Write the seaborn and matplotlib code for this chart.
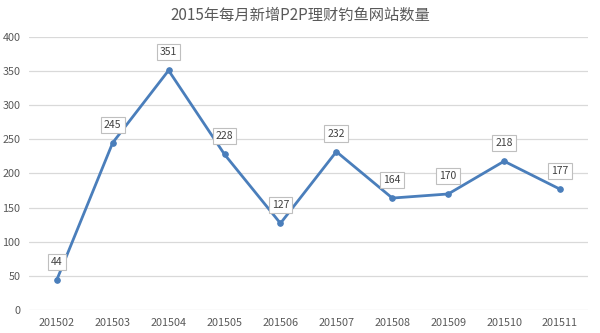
import matplotlib
matplotlib.use("Agg")
import matplotlib.pyplot as plt
import seaborn as sns
import pandas as pd

months = ["201502", "201503", "201504", "201505", "201506", "201507", "201508", "201509", "201510", "201511"]
counts = [44, 245, 351, 228, 127, 232, 164, 170, 218, 177]
yticks = [0, 50, 100, 150, 200, 250, 300, 350, 400]

sns.set_style("white")
plt.rcParams['font.family'] = ['Noto Sans CJK SC', 'DejaVu Sans']

df = pd.DataFrame({"month": months, "count": counts})
fig = plt.figure(figsize=(6, 3.33), dpi=100)
ax = fig.add_axes([0.048, 0.069, 0.932, 0.82])

sns.lineplot(data=df, x="month", y="count", ax=ax, color="#4a7ebb", linewidth=2.0,
             marker="o", markersize=4, markeredgecolor="#4a7ebb", sort=False)

for i, v in enumerate(counts):
    ax.annotate(str(v), xy=(i, v), xytext=(0, 13), textcoords="offset points",
                ha="center", va="center", fontsize=7.5, color="#404040",
                bbox=dict(boxstyle="square,pad=0.3", fc="white", ec="#bfbfbf", lw=0.8))

ax.set_xlim(-0.5, len(months) - 0.5)
ax.set_ylim(0, 400)
ax.set_yticks(yticks)
ax.grid(axis="y", color="#d9d9d9", linewidth=0.9)
ax.set_axisbelow(True)
for s in ax.spines.values():
    s.set_visible(False)
ax.tick_params(axis="both", length=0, labelsize=7.8, labelcolor="#595959", pad=6)
ax.set_xlabel("")
ax.set_ylabel("")
fig.suptitle("2015年每月新增P2P理财钓鱼网站数量", x=0.5, y=0.98, fontsize=11, color="#595959")

fig.savefig("out.png", dpi=100)
